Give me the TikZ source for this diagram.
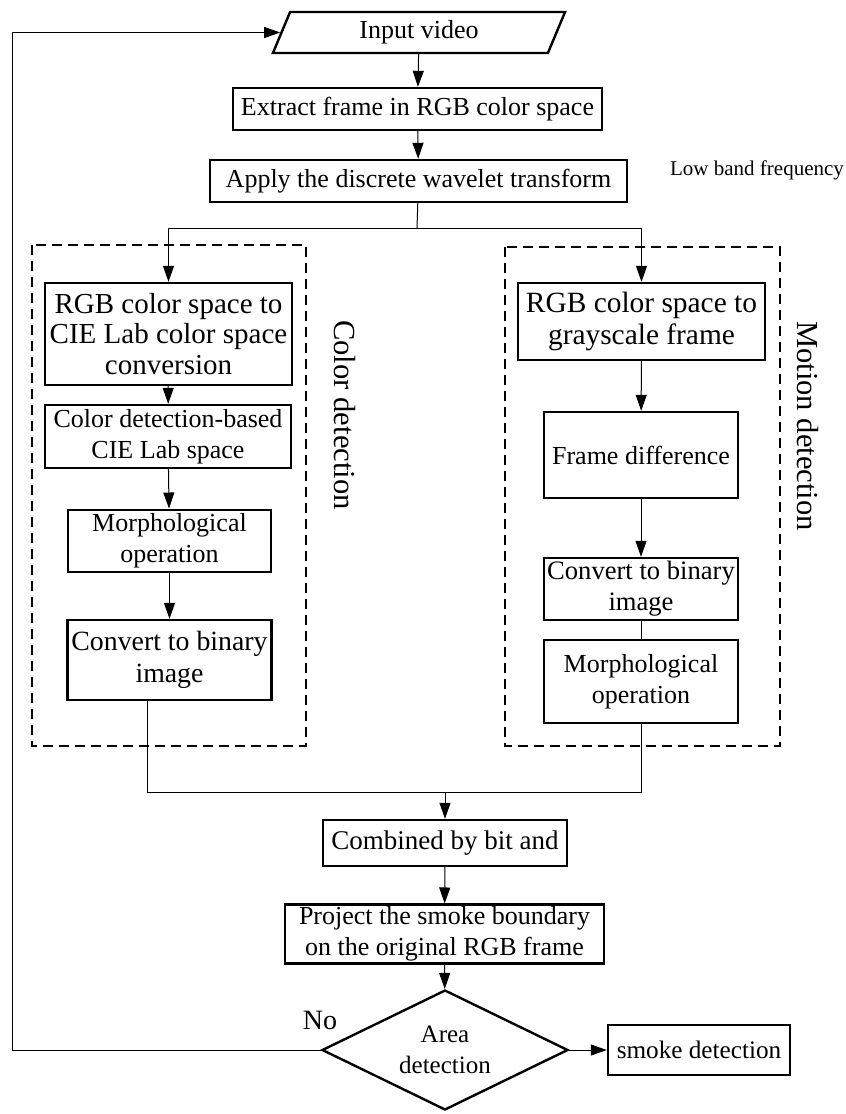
\documentclass[tikz,border=0pt]{standalone}
\usepackage{fontspec}
\setmainfont{Liberation Serif}
\usetikzlibrary{shapes.geometric, arrows.meta, positioning, calc}

\tikzset{
  block/.style={draw, line width=1.2pt, align=center, inner sep=2pt, font=\fontsize{13}{15.5}\selectfont},
  group/.style={draw, line width=1.2pt, dash pattern=on 5pt off 3pt},
  arr/.style={-{Triangle[length=8pt,width=5.5pt]}, line width=0.5pt},
  link/.style={line width=0.5pt},
  side/.style={rotate=-90, font=\fontsize{15.3}{18}\selectfont},
}

\begin{document}
\begin{tikzpicture}[x=0.5pt, y=-0.5pt]
\useasboundingbox (0,0) rectangle (846,1114);
% Input and preprocessing
\node[block, trapezium, trapezium left angle=75, trapezium right angle=105, trapezium stretches=true, minimum width=147pt, minimum height=20.5pt] (inp) at (419,32.5) {Input video};
\node[block, minimum width=184.5pt, minimum height=21pt] (ext) at (417.5,109) {Extract frame in RGB color space};
\node[block, minimum width=208.5pt, minimum height=21pt] (dwt) at (418.5,181) {Apply the discrete wavelet transform};
\node[font=\fontsize{10.5}{12}\selectfont] (band) at (757,170) {Low band frequency};

% Dashed groups
\draw[group] (32,245) rectangle (306,746);
\draw[group] (505,247) rectangle (780,746);
\node[side] (colorlab) at (345,415) {Color detection};
\node[side] (motionlab) at (808,426) {Motion detection};

% Color detection branch
\node[block, font=\fontsize{14.5}{15.3}\selectfont, inner sep=1pt, minimum width=123.5pt, minimum height=51pt] (c1) at (168.5,334) {RGB color space to\\CIE Lab color space\\conversion};
\node[block, minimum width=123pt, minimum height=31.5pt] (c2) at (168,436.5) {Color detection-based\\CIE Lab space};
\node[block, minimum width=101.5pt, minimum height=31pt] (c3) at (169.5,541) {Morphological\\operation};
\node[block, font=\fontsize{13.9}{16}\selectfont, minimum width=101.5pt, minimum height=40pt] (c4) at (169.5,660) {Convert to binary\\image};

% Motion detection branch
\node[block, font=\fontsize{14.7}{16}\selectfont, inner sep=1pt, minimum width=123.5pt, minimum height=38.5pt] (m1) at (641.5,321.5) {RGB color space to\\grayscale frame};
\node[block, minimum width=97pt, minimum height=43pt] (m2) at (641,455) {Frame difference};
\node[block, font=\fontsize{13.3}{15.5}\selectfont, inner sep=1pt, minimum width=97pt, minimum height=31pt] (m3) at (641,589) {Convert to binary\\image};
\node[block, minimum width=97pt, minimum height=41.5pt] (m4) at (641,681.5) {Morphological\\operation};

% Fusion and decision
\node[block, font=\fontsize{13.5}{15.5}\selectfont, minimum width=122pt, minimum height=23pt] (comb) at (445,843) {Combined by bit and};
\node[block, inner sep=1pt, minimum width=159.5pt, minimum height=29pt] (proj) at (444.5,934) {Project the smoke boundary\\on the original RGB frame};
\node[block, diamond, aspect=2, inner sep=0pt, font=\fontsize{12.5}{15.5}\selectfont, minimum width=123pt, minimum height=60pt] (dia) at (445,1050) {Area\\detection};
\node[block, font=\fontsize{12.6}{15}\selectfont, minimum width=91pt, minimum height=25pt] (smoke) at (699,1050) {smoke detection};
\node[font=\fontsize{14}{16}\selectfont] (no) at (320,1020) {No};

\coordinate (split) at (417,228);
\coordinate (merge) at (445,792);
\coordinate (back) at (12,1050);

% Connectors
\draw[arr] (inp) -- (ext);
\draw[arr] (ext) -- (dwt);
\draw[link] (dwt) -- (split);
\draw[arr] (split) -| (c1);
\draw[arr] (split) -| (m1);
\draw[arr] (c1) -- (c2);
\draw[arr] (c2) -- (c3);
\draw[arr] (c3) -- (c4);
\draw[arr] (m1) -- (m2);
\draw[arr] (m2) -- (m3);
\draw[link] (m3) -- (m4);
\draw[link] ([xshift=-11pt]c4.south) |- (merge) -| (m4.south);
\draw[arr] (merge) -- (comb);
\draw[arr] (comb) -- (proj);
\draw[arr] (proj) -- (dia);
\draw[arr] (dia) -- (smoke);
\draw[arr] (dia.west) -- (back) |- (inp.west);
\end{tikzpicture}
\end{document}
